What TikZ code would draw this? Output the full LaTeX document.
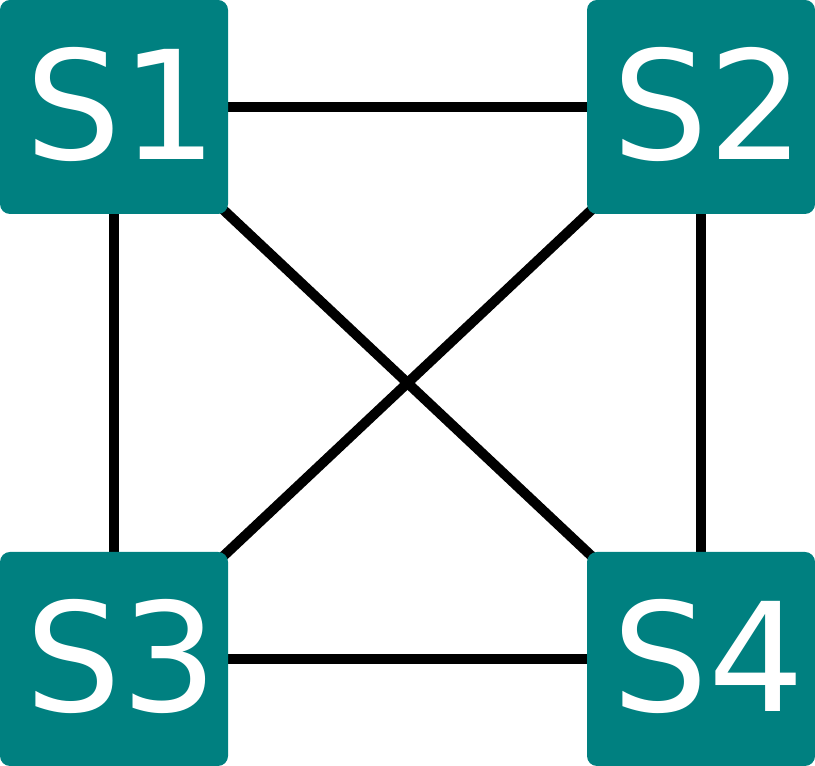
\documentclass[tikz,border=0pt]{standalone}
\usepackage{fontspec}
\setmainfont{DejaVu Sans}
\usetikzlibrary{backgrounds,positioning}
\definecolor{Teal}{HTML}{008080}
\tikzset{
  link/.style={line width=1mm,draw=black},
  switchbox/.style={rounded corners=1mm,minimum width=2.28cm,minimum height=2.14cm,inner sep=0pt,
    text depth=0.08cm,draw=none,fill=Teal,text=white,font=\fontsize{43}{50}\selectfont\hspace*{1.6mm}},
}
\begin{document}
\begin{tikzpicture}[x=1cm,y=1cm]
    \useasboundingbox (0,0) rectangle (8.15,7.66);

    \node[switchbox] (s1) at (1.14,6.59) {S1};
    \node[switchbox] (s2) at (7.01,6.59) {S2};
    \node[switchbox] (s3) at (1.14,1.07) {S3};
    \node[switchbox] (s4) at (7.01,1.07) {S4};

    \begin{scope}[on background layer]
      \draw[link] (s1.center) -- (s2.center);
      \draw[link] (s3.center) -- (s4.center);
      \draw[link] (s1.center) -- (s3.center);
      \draw[link] (s2.center) -- (s4.center);
      \draw[link] (s1.center) -- (s4.center);
      \draw[link] (s2.center) -- (s3.center);
    \end{scope}
  \end{tikzpicture}
\end{document}
